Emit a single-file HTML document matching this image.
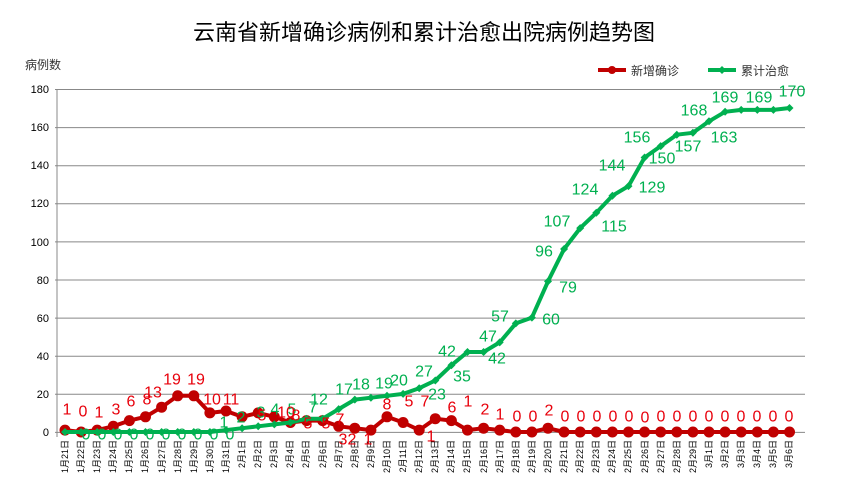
<!DOCTYPE html>
<html><head><meta charset="utf-8"><style>
body{margin:0;background:#fff}
svg{display:block;font-family:"Liberation Sans","Noto Sans CJK SC",sans-serif}
</style></head><body>
<svg width="848" height="496" viewBox="0 0 848 496">
<text x="424" y="40" font-size="22" text-anchor="middle" fill="#000">云南省新增确诊病例和累计治愈出院病例趋势图</text>
<text x="25" y="69" font-size="12" fill="#333">病例数</text>
<line x1="598" y1="70" x2="626" y2="70" stroke="#c00000" stroke-width="4"/><circle cx="612" cy="70" r="4" fill="#c00000"/>
<text x="631" y="75" font-size="12" fill="#333">新增确诊</text>
<line x1="708" y1="70" x2="736" y2="70" stroke="#00b050" stroke-width="4"/><path d="M722 66 L726 70 L722 74 L718 70Z" fill="#00b050"/>
<text x="741" y="75" font-size="12" fill="#333">累计治愈</text>
<g stroke="#888" stroke-width="1">
<line x1="55" y1="89.5" x2="805" y2="89.5"/><line x1="55" y1="127.6" x2="805" y2="127.6"/><line x1="55" y1="165.7" x2="805" y2="165.7"/><line x1="55" y1="203.8" x2="805" y2="203.8"/><line x1="55" y1="241.9" x2="805" y2="241.9"/><line x1="55" y1="280" x2="805" y2="280"/><line x1="55" y1="318.1" x2="805" y2="318.1"/><line x1="55" y1="356.2" x2="805" y2="356.2"/><line x1="55" y1="394.3" x2="805" y2="394.3"/><line x1="55" y1="432.4" x2="805" y2="432.4"/>
<line x1="57" y1="89" x2="57" y2="437"/>
</g>
<g font-size="11" text-anchor="end" fill="#000">
<text x="49" y="93">180</text><text x="49" y="131">160</text><text x="49" y="169">140</text><text x="49" y="207">120</text><text x="49" y="246">100</text><text x="49" y="284">80</text><text x="49" y="322">60</text><text x="49" y="360">40</text><text x="49" y="398">20</text><text x="49" y="436">0</text>
</g>
<g font-size="9" fill="#000" text-anchor="end">
<text transform="translate(68,440) rotate(-90)">1月21日</text><text transform="translate(84,440) rotate(-90)">1月22日</text><text transform="translate(100,440) rotate(-90)">1月23日</text><text transform="translate(116,440) rotate(-90)">1月24日</text><text transform="translate(132,440) rotate(-90)">1月25日</text><text transform="translate(148,440) rotate(-90)">1月26日</text><text transform="translate(165,440) rotate(-90)">1月27日</text><text transform="translate(181,440) rotate(-90)">1月28日</text><text transform="translate(197,440) rotate(-90)">1月29日</text><text transform="translate(213,440) rotate(-90)">1月30日</text><text transform="translate(229,440) rotate(-90)">1月31日</text><text transform="translate(245,440) rotate(-90)">2月1日</text><text transform="translate(261,440) rotate(-90)">2月2日</text><text transform="translate(277,440) rotate(-90)">2月3日</text><text transform="translate(293,440) rotate(-90)">2月4日</text><text transform="translate(309,440) rotate(-90)">2月5日</text><text transform="translate(326,440) rotate(-90)">2月6日</text><text transform="translate(342,440) rotate(-90)">2月7日</text><text transform="translate(358,440) rotate(-90)">2月8日</text><text transform="translate(374,440) rotate(-90)">2月9日</text><text transform="translate(390,440) rotate(-90)">2月10日</text><text transform="translate(406,440) rotate(-90)">2月11日</text><text transform="translate(422,440) rotate(-90)">2月12日</text><text transform="translate(438,440) rotate(-90)">2月13日</text><text transform="translate(454,440) rotate(-90)">2月14日</text><text transform="translate(470,440) rotate(-90)">2月15日</text><text transform="translate(487,440) rotate(-90)">2月16日</text><text transform="translate(503,440) rotate(-90)">2月17日</text><text transform="translate(519,440) rotate(-90)">2月18日</text><text transform="translate(535,440) rotate(-90)">2月19日</text><text transform="translate(551,440) rotate(-90)">2月20日</text><text transform="translate(567,440) rotate(-90)">2月21日</text><text transform="translate(583,440) rotate(-90)">2月22日</text><text transform="translate(599,440) rotate(-90)">2月23日</text><text transform="translate(615,440) rotate(-90)">2月24日</text><text transform="translate(631,440) rotate(-90)">2月25日</text><text transform="translate(648,440) rotate(-90)">2月26日</text><text transform="translate(664,440) rotate(-90)">2月27日</text><text transform="translate(680,440) rotate(-90)">2月28日</text><text transform="translate(696,440) rotate(-90)">2月29日</text><text transform="translate(712,440) rotate(-90)">3月1日</text><text transform="translate(728,440) rotate(-90)">3月2日</text><text transform="translate(744,440) rotate(-90)">3月3日</text><text transform="translate(760,440) rotate(-90)">3月4日</text><text transform="translate(776,440) rotate(-90)">3月5日</text><text transform="translate(792,440) rotate(-90)">3月6日</text>
</g>
<polyline fill="none" stroke="#c00000" stroke-width="4" stroke-linejoin="round" points="65,430.1 81.1,432 97.2,430.1 113.3,426.3 129.4,420.6 145.5,416.8 161.6,407.2 177.7,395.8 193.8,395.8 209.9,412.9 226,411 242.1,416.8 258.2,412.9 274.3,416.8 290.4,422.5 306.5,420.6 322.6,420.6 338.7,426.3 354.8,428.2 370.9,430.1 387,416.8 403.1,422.5 419.2,430.1 435.3,418.7 451.4,420.6 467.5,430.1 483.6,428.2 499.7,430.1 515.8,432 531.9,432 548,428.2 564.1,432 580.2,432 596.3,432 612.4,432 628.5,432 644.6,432 660.7,432 676.8,432 692.9,432 709,432 725.1,432 741.2,432 757.3,432 773.4,432 789.5,432"/>
<g fill="#c00000">
<circle cx="65" cy="430.1" r="5.5"/><circle cx="81.1" cy="432" r="5.5"/><circle cx="97.2" cy="430.1" r="5.5"/><circle cx="113.3" cy="426.3" r="5.5"/><circle cx="129.4" cy="420.6" r="5.5"/><circle cx="145.5" cy="416.8" r="5.5"/><circle cx="161.6" cy="407.2" r="5.5"/><circle cx="177.7" cy="395.8" r="5.5"/><circle cx="193.8" cy="395.8" r="5.5"/><circle cx="209.9" cy="412.9" r="5.5"/><circle cx="226" cy="411" r="5.5"/><circle cx="242.1" cy="416.8" r="5.5"/><circle cx="258.2" cy="412.9" r="5.5"/><circle cx="274.3" cy="416.8" r="5.5"/><circle cx="290.4" cy="422.5" r="5.5"/><circle cx="306.5" cy="420.6" r="5.5"/><circle cx="322.6" cy="420.6" r="5.5"/><circle cx="338.7" cy="426.3" r="5.5"/><circle cx="354.8" cy="428.2" r="5.5"/><circle cx="370.9" cy="430.1" r="5.5"/><circle cx="387" cy="416.8" r="5.5"/><circle cx="403.1" cy="422.5" r="5.5"/><circle cx="419.2" cy="430.1" r="5.5"/><circle cx="435.3" cy="418.7" r="5.5"/><circle cx="451.4" cy="420.6" r="5.5"/><circle cx="467.5" cy="430.1" r="5.5"/><circle cx="483.6" cy="428.2" r="5.5"/><circle cx="499.7" cy="430.1" r="5.5"/><circle cx="515.8" cy="432" r="5.5"/><circle cx="531.9" cy="432" r="5.5"/><circle cx="548" cy="428.2" r="5.5"/><circle cx="564.1" cy="432" r="5.5"/><circle cx="580.2" cy="432" r="5.5"/><circle cx="596.3" cy="432" r="5.5"/><circle cx="612.4" cy="432" r="5.5"/><circle cx="628.5" cy="432" r="5.5"/><circle cx="644.6" cy="432" r="5.5"/><circle cx="660.7" cy="432" r="5.5"/><circle cx="676.8" cy="432" r="5.5"/><circle cx="692.9" cy="432" r="5.5"/><circle cx="709" cy="432" r="5.5"/><circle cx="725.1" cy="432" r="5.5"/><circle cx="741.2" cy="432" r="5.5"/><circle cx="757.3" cy="432" r="5.5"/><circle cx="773.4" cy="432" r="5.5"/><circle cx="789.5" cy="432" r="5.5"/>
</g>
<polyline fill="none" stroke="#00b050" stroke-width="4" stroke-linejoin="round" points="65,432 81.1,432 97.2,432 113.3,432 129.4,432 145.5,432 161.6,432 177.7,432 193.8,432 209.9,432 226,430.1 242.1,428.2 258.2,426.3 274.3,424.4 290.4,422.5 306.5,418.7 322.6,418.7 338.7,409.1 354.8,399.6 370.9,397.7 387,395.8 403.1,393.9 419.2,388.2 435.3,380.5 451.4,365.3 467.5,352 483.6,352 499.7,342.4 515.8,323.4 531.9,317.6 548,281.4 564.1,249 580.2,228.1 596.3,212.8 612.4,195.7 628.5,186.1 644.6,157.5 660.7,146.1 676.8,134.7 692.9,132.8 709,121.3 725.1,111.8 741.2,109.9 757.3,109.9 773.4,109.9 789.5,108"/>
<g fill="#00b050">
<path d="M65 428l4 4-4 4-4-4z"/><path d="M81.1 428l4 4-4 4-4-4z"/><path d="M97.2 428l4 4-4 4-4-4z"/><path d="M113.3 428l4 4-4 4-4-4z"/><path d="M129.4 428l4 4-4 4-4-4z"/><path d="M145.5 428l4 4-4 4-4-4z"/><path d="M161.6 428l4 4-4 4-4-4z"/><path d="M177.7 428l4 4-4 4-4-4z"/><path d="M193.8 428l4 4-4 4-4-4z"/><path d="M209.9 428l4 4-4 4-4-4z"/><path d="M226 426.1l4 4-4 4-4-4z"/><path d="M242.1 424.2l4 4-4 4-4-4z"/><path d="M258.2 422.3l4 4-4 4-4-4z"/><path d="M274.3 420.4l4 4-4 4-4-4z"/><path d="M290.4 418.5l4 4-4 4-4-4z"/><path d="M306.5 414.7l4 4-4 4-4-4z"/><path d="M322.6 414.7l4 4-4 4-4-4z"/><path d="M338.7 405.1l4 4-4 4-4-4z"/><path d="M354.8 395.6l4 4-4 4-4-4z"/><path d="M370.9 393.7l4 4-4 4-4-4z"/><path d="M387 391.8l4 4-4 4-4-4z"/><path d="M403.1 389.9l4 4-4 4-4-4z"/><path d="M419.2 384.2l4 4-4 4-4-4z"/><path d="M435.3 376.5l4 4-4 4-4-4z"/><path d="M451.4 361.3l4 4-4 4-4-4z"/><path d="M467.5 348l4 4-4 4-4-4z"/><path d="M483.6 348l4 4-4 4-4-4z"/><path d="M499.7 338.4l4 4-4 4-4-4z"/><path d="M515.8 319.4l4 4-4 4-4-4z"/><path d="M531.9 313.6l4 4-4 4-4-4z"/><path d="M548 277.4l4 4-4 4-4-4z"/><path d="M564.1 245l4 4-4 4-4-4z"/><path d="M580.2 224.1l4 4-4 4-4-4z"/><path d="M596.3 208.8l4 4-4 4-4-4z"/><path d="M612.4 191.7l4 4-4 4-4-4z"/><path d="M628.5 182.1l4 4-4 4-4-4z"/><path d="M644.6 153.5l4 4-4 4-4-4z"/><path d="M660.7 142.1l4 4-4 4-4-4z"/><path d="M676.8 130.7l4 4-4 4-4-4z"/><path d="M692.9 128.8l4 4-4 4-4-4z"/><path d="M709 117.3l4 4-4 4-4-4z"/><path d="M725.1 107.8l4 4-4 4-4-4z"/><path d="M741.2 105.9l4 4-4 4-4-4z"/><path d="M757.3 105.9l4 4-4 4-4-4z"/><path d="M773.4 105.9l4 4-4 4-4-4z"/><path d="M789.5 104l4 4-4 4-4-4z"/>
</g>
<g font-size="16" fill="#00b050" text-anchor="middle" dominant-baseline="central">
<text x="86" y="435">0</text><text x="102" y="435">0</text><text x="118" y="435">0</text><text x="134" y="435">0</text><text x="150" y="435">0</text><text x="166" y="435">0</text><text x="182" y="435">0</text><text x="198" y="435">0</text><text x="214" y="435">0</text><text x="230" y="435">0</text>
<text x="224" y="423">1</text><text x="241" y="418">2</text><text x="261" y="413">3</text><text x="275" y="410">4</text><text x="292" y="410">5</text><text x="313" y="408">7</text><text x="319" y="400">12</text><text x="344" y="390">17</text><text x="361" y="385">18</text><text x="384" y="384">19</text><text x="399" y="381">20</text><text x="424" y="372">27</text><text x="437" y="395">23</text><text x="447" y="352">42</text><text x="462" y="377">35</text><text x="488" y="337">47</text><text x="497" y="359">42</text><text x="500" y="317">57</text><text x="551" y="320">60</text><text x="568" y="288">79</text><text x="544" y="252">96</text><text x="557" y="222">107</text><text x="614" y="227">115</text><text x="585" y="190">124</text><text x="652" y="188">129</text><text x="612" y="166">144</text><text x="662" y="159">150</text><text x="637" y="138">156</text><text x="688" y="147">157</text><text x="724" y="138">163</text><text x="694" y="111">168</text><text x="725" y="98">169</text><text x="759" y="98">169</text><text x="792" y="92">170</text>
</g>
<g font-size="16" fill="#e8000b" text-anchor="middle" dominant-baseline="central">
<text x="67" y="410">1</text><text x="83" y="412">0</text><text x="99" y="413">1</text><text x="116" y="410">3</text><text x="131" y="402">6</text><text x="147" y="400">8</text><text x="153" y="393">13</text><text x="172" y="380">19</text><text x="196" y="380">19</text><text x="212" y="400">10</text><text x="231" y="400">11</text>
<text x="262" y="416">5</text><text x="286" y="413">10</text><text x="296" y="416">8</text><text x="308" y="424">5</text><text x="326" y="424">5</text><text x="340" y="420">7</text>
<text x="343" y="440">3</text><text x="352" y="440">2</text><text x="368" y="440">1</text><text x="387" y="405">8</text><text x="409" y="402">5</text><text x="425" y="402">7</text><text x="431" y="437">1</text><text x="452" y="408">6</text><text x="468" y="402">1</text><text x="485" y="410">2</text><text x="500" y="415">1</text><text x="517" y="417">0</text><text x="533" y="417">0</text><text x="549" y="411">2</text>
<text x="565" y="417">0</text><text x="581" y="417">0</text><text x="597" y="417">0</text><text x="613" y="417">0</text><text x="629" y="417">0</text><text x="645" y="418">0</text><text x="661" y="417">0</text><text x="677" y="417">0</text><text x="693" y="417">0</text><text x="709" y="417">0</text><text x="725" y="417">0</text><text x="741" y="417">0</text><text x="757" y="417">0</text><text x="773" y="417">0</text><text x="789" y="417">0</text>
</g>
</svg>
</body></html>
